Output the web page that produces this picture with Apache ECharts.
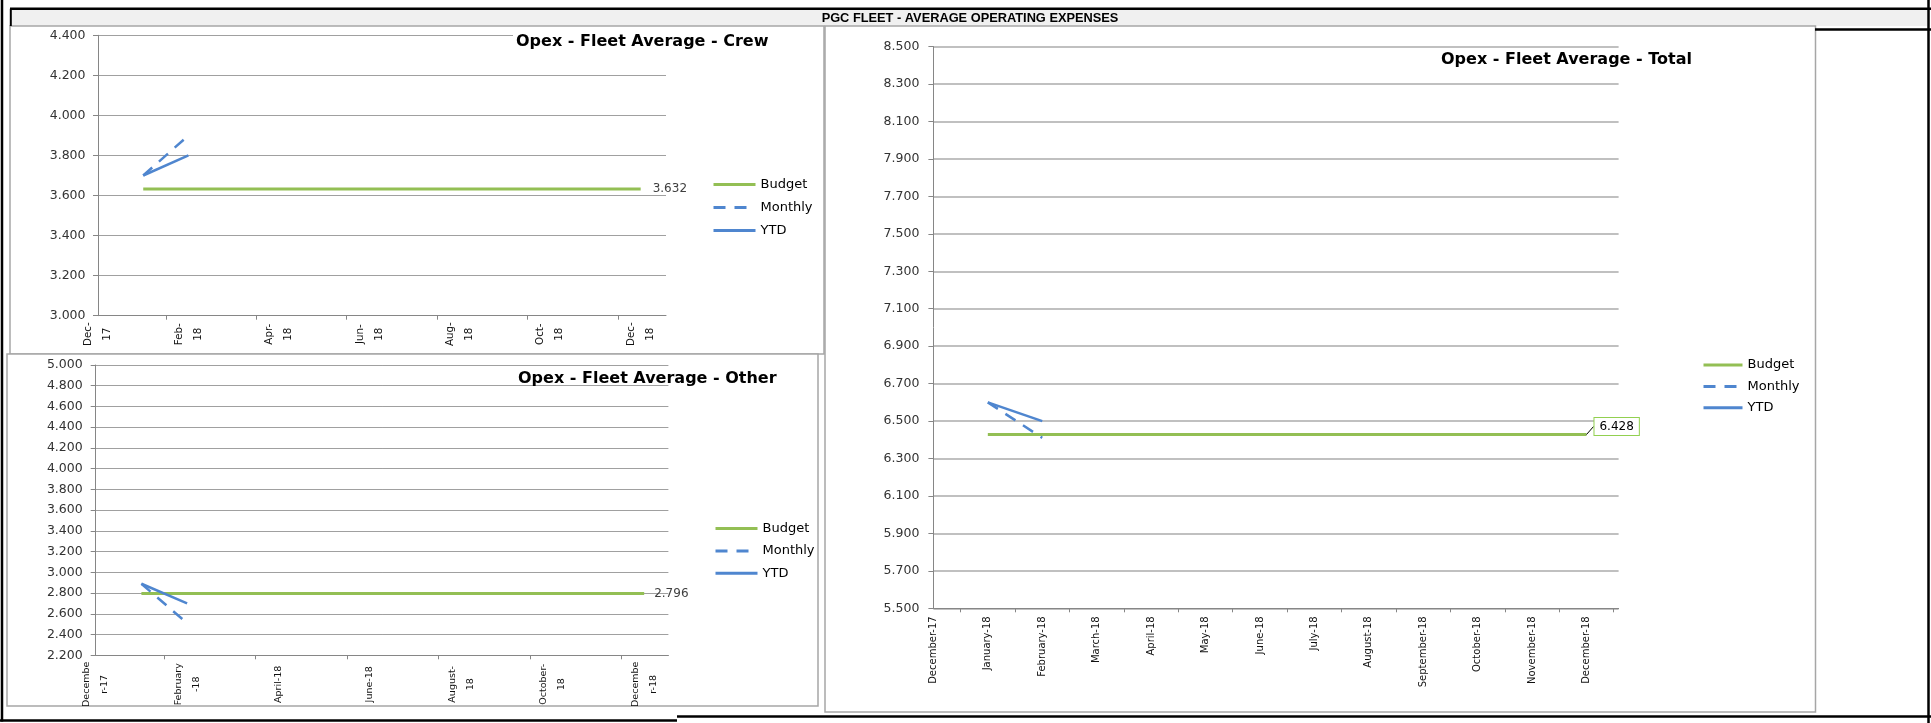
<!DOCTYPE html>
<html>
<head>
<meta charset="utf-8">
<title>PGC Fleet - Average Operating Expenses</title>
<script src="https://cdn.jsdelivr.net/npm/echarts@6/dist/echarts.min.js"></script>
<style>
  html, body { margin: 0; padding: 0; background: #fff; }
  #chart { width: 1931px; height: 723px; }
</style>
</head>
<body>
<div id="chart"></div>
<script>
// Month positions on the x axis: 0 = December-17 ... 12 = December-18
const monthNames = ['December-17', 'January-18', 'February-18', 'March-18', 'April-18', 'May-18',
  'June-18', 'July-18', 'August-18', 'September-18', 'October-18', 'November-18', 'December-18'];
// Bi-monthly labels of the two small charts
const crewAxisLabels = ['Dec-\n17', 'Feb-\n18', 'Apr-\n18', 'Jun-\n18', 'Aug-\n18', 'Oct-\n18', 'Dec-\n18'];
const otherAxisLabels = ['Decembe\nr-17', 'February\n-18', 'April-18', 'June-18', 'August-\n18', 'October-\n18', 'Decembe\nr-18'];

// Opex per vessel per day, January-18 .. December-18 (null = not reported yet)
const crewBudget   = [3632, 3632, 3632, 3632, 3632, 3632, 3632, 3632, 3632, 3632, 3632, 3632];
const crewMonthly  = [3700, 3900, null, null, null, null, null, null, null, null, null, null];
const crewYtd      = [3700, 3800, null, null, null, null, null, null, null, null, null, null];

const otherBudget  = [2796, 2796, 2796, 2796, 2796, 2796, 2796, 2796, 2796, 2796, 2796, 2796];
const otherMonthly = [2890, 2510, null, null, null, null, null, null, null, null, null, null];
const otherYtd     = [2890, 2700, null, null, null, null, null, null, null, null, null, null];

const totalBudget  = [6428, 6428, 6428, 6428, 6428, 6428, 6428, 6428, 6428, 6428, 6428, 6428];
const totalMonthly = [6600, 6410, null, null, null, null, null, null, null, null, null, null];
const totalYtd     = [6600, 6500, null, null, null, null, null, null, null, null, null, null];

const FONT = 'DejaVu Sans';
const GREEN = '#93BF54';
const BLUE = '#4F86CF';
const AXIS_GREY = '#868686';

// 3632 -> "3.632" (dot as thousands separator)
const fmt = v => (v / 1000).toFixed(3);

// [monthIndex, value] pairs; January-18 sits at index 1
function pairs(arr) {
  return arr.map((v, i) => (v == null ? null : [i + 1, v])).filter(Boolean);
}
// Budget line with its value printed at the last month
function budgetData(arr) {
  const d = pairs(arr);
  return d.map((p, i) => (i === d.length - 1 ? { value: p, label: { show: true } } : p));
}

function monthAxis(gridIndex, max, labelValues, tickValues, labelOpts) {
  return {
    type: 'value', gridIndex, min: 0, max,
    axisLine: { show: true, lineStyle: { color: AXIS_GREY, width: 1 } },
    axisTick: { show: true, customValues: tickValues, length: 4, lineStyle: { color: AXIS_GREY } },
    axisLabel: Object.assign({
      customValues: labelValues, rotate: 90, fontFamily: FONT, color: '#111'
    }, labelOpts),
    splitLine: { show: false }
  };
}

function valueAxis(gridIndex, min, max, margin, gridColor, gridWidth) {
  return {
    type: 'value', gridIndex, min, max, interval: 200,
    axisLine: { show: true, lineStyle: { color: AXIS_GREY, width: 1 } },
    axisTick: { show: true, length: 5, lineStyle: { color: AXIS_GREY } },
    axisLabel: { formatter: fmt, margin, fontSize: 12.5, fontFamily: FONT, color: '#333' },
    splitLine: { show: true, lineStyle: { color: gridColor, width: gridWidth, type: 'solid' } }
  };
}

const lineBase = {
  type: 'line', symbol: 'circle', symbolSize: 0, showSymbol: true,
  silent: true, animation: false, emphasis: { disabled: true }
};

function chartSeries(axisIndex, budget, monthly, ytd, budgetLabel, extra) {
  return [
    Object.assign({}, lineBase, {
      name: 'Budget', xAxisIndex: axisIndex, yAxisIndex: axisIndex,
      data: budgetData(budget),
      lineStyle: { color: GREEN, width: 3 }, itemStyle: { color: GREEN },
      label: Object.assign({
        show: false, position: 'right', formatter: p => fmt(p.value[1]),
        fontSize: 12, fontFamily: FONT, color: '#404040'
      }, budgetLabel)
    }, extra || {}),
    Object.assign({}, lineBase, {
      name: 'Monthly', xAxisIndex: axisIndex, yAxisIndex: axisIndex,
      data: pairs(monthly),
      lineStyle: { color: BLUE, width: 2.5, type: [12, 9] }, itemStyle: { color: BLUE }
    }),
    Object.assign({}, lineBase, {
      name: 'YTD', xAxisIndex: axisIndex, yAxisIndex: axisIndex,
      data: pairs(ytd),
      lineStyle: { color: BLUE, width: 2.5 }, itemStyle: { color: BLUE }
    })
  ];
}

function legendAt(left, top, itemWidth, itemGap) {
  return {
    data: ['Budget', 'Monthly', 'YTD'], orient: 'vertical', left, top, padding: 0,
    itemWidth, itemHeight: 3, itemGap, selectedMode: false,
    itemStyle: { opacity: 0 },
    lineStyle: { width: 3 },
    textStyle: { fontFamily: FONT, fontSize: 13, color: '#000' }
  };
}

const titleStyle = { fontFamily: FONT, fontWeight: 'bold', fontSize: 16, lineHeight: 18, color: '#000' };
const PANEL = '#a6a6a6';

const option = {
  animation: false,
  graphic: [
    { type: 'rect', z: -5, silent: true, shape: { x: 11, y: 10, width: 1916, height: 16 }, style: { fill: '#f0f0f0' } },
    { type: 'rect', z: -4, silent: true, shape: { x: 10, y: 26, width: 814, height: 328 }, style: { fill: '#fff', stroke: PANEL, lineWidth: 1.5 } },
    { type: 'rect', z: -4, silent: true, shape: { x: 7, y: 354, width: 811, height: 352 }, style: { fill: '#fff', stroke: PANEL, lineWidth: 1.5 } },
    { type: 'rect', z: -4, silent: true, shape: { x: 825, y: 26, width: 990.5, height: 686 }, style: { fill: '#fff', stroke: PANEL, lineWidth: 1.5 } },
    { type: 'line', z: -3, silent: true, shape: { x1: 2, y1: 0, x2: 2, y2: 721.5 }, style: { stroke: '#000', lineWidth: 2.5 } },
    { type: 'line', z: -3, silent: true, shape: { x1: 10, y1: 8.8, x2: 1931, y2: 8.8 }, style: { stroke: '#000', lineWidth: 2.5 } },
    { type: 'line', z: -3, silent: true, shape: { x1: 10.8, y1: 8.8, x2: 10.8, y2: 26 }, style: { stroke: '#000', lineWidth: 2 } },
    { type: 'line', z: -3, silent: true, shape: { x1: 1928.5, y1: 0, x2: 1928.5, y2: 723 }, style: { stroke: '#000', lineWidth: 2.5 } },
    { type: 'line', z: -3, silent: true, shape: { x1: 1815, y1: 29.5, x2: 1931, y2: 29.5 }, style: { stroke: '#000', lineWidth: 2.5 } },
    { type: 'line', z: -3, silent: true, shape: { x1: 0, y1: 720.5, x2: 677, y2: 720.5 }, style: { stroke: '#000', lineWidth: 2.5 } },
    { type: 'line', z: -3, silent: true, shape: { x1: 677, y1: 716.5, x2: 1931, y2: 716.5 }, style: { stroke: '#000', lineWidth: 2.5 } },
    {
      type: 'text', z: -2, silent: true, x: 970, y: 18.5,
      style: {
        text: 'PGC FLEET - AVERAGE OPERATING EXPENSES', align: 'center', verticalAlign: 'middle',
        font: 'bold 12.8px "Liberation Sans", Arial, sans-serif', fill: '#000'
      }
    }
  ],
  title: [
    { text: 'Opex - Fleet Average - Crew', left: 513, top: 27, padding: [6, 3, 6, 3], backgroundColor: '#fff', textStyle: titleStyle },
    { text: 'Opex - Fleet Average - Other', left: 518, top: 370, padding: 0, textStyle: titleStyle },
    { text: 'Opex - Fleet Average - Total', left: 1441, top: 51, padding: 0, textStyle: titleStyle }
  ],
  legend: [
    legendAt(712, 178, 42, 10),
    legendAt(714, 522, 42, 9.4),
    legendAt(1702, 358.5, 39, 8.4)
  ],
  grid: [
    { left: 98, top: 35.3, width: 568, height: 280.4 },
    { left: 95.7, top: 365, width: 572.7, height: 290.3 },
    { left: 933.4, top: 46.6, width: 685.2, height: 561.7 }
  ],
  xAxis: [
    monthAxis(0, 12.56, [0, 2, 4, 6, 8, 10, 12], [1.5, 3.5, 5.5, 7.5, 9.5, 11.5], {
      formatter: v => crewAxisLabels[Math.round(v / 2)],
      align: 'center', verticalAlign: 'middle', margin: 18.5, fontSize: 10.3, lineHeight: 19
    }),
    monthAxis(1, 12.53, [0, 2, 4, 6, 8, 10, 12], [1.5, 3.5, 5.5, 7.5, 9.5, 11.5], {
      formatter: v => otherAxisLabels[Math.round(v / 2)],
      align: 'center', verticalAlign: 'middle', margin: 29, fontSize: 9.5, lineHeight: 18
    }),
    monthAxis(2, 12.59, [0, 1, 2, 3, 4, 5, 6, 7, 8, 9, 10, 11, 12],
      [0.5, 1.5, 2.5, 3.5, 4.5, 5.5, 6.5, 7.5, 8.5, 9.5, 10.5, 11.5, 12.5], {
      formatter: v => monthNames[Math.round(v)],
      margin: 8, fontSize: 10
    })
  ],
  yAxis: [
    valueAxis(0, 3000, 4400, 12.5, '#a0a0a0', 1),
    valueAxis(1, 2200, 5000, 13, '#a0a0a0', 1),
    valueAxis(2, 5500, 8500, 14, '#ababab', 1.6)
  ],
  series: [].concat(
    chartSeries(0, crewBudget, crewMonthly, crewYtd, { distance: 12 }),
    chartSeries(1, otherBudget, otherMonthly, otherYtd, { distance: 10 }),
    chartSeries(2, totalBudget, totalMonthly, totalYtd, {
      distance: 8, color: '#000', backgroundColor: '#fff',
      borderColor: '#92D050', borderWidth: 1, padding: [3, 5, 2, 5]
    }, {
      labelLayout: { dy: -8 },
      labelLine: { show: true, lineStyle: { color: '#000', width: 1 } }
    })
  )
};

const chart = echarts.init(document.getElementById('chart'), null, { renderer: 'canvas' });
chart.setOption(option);
</script>
</body>
</html>
